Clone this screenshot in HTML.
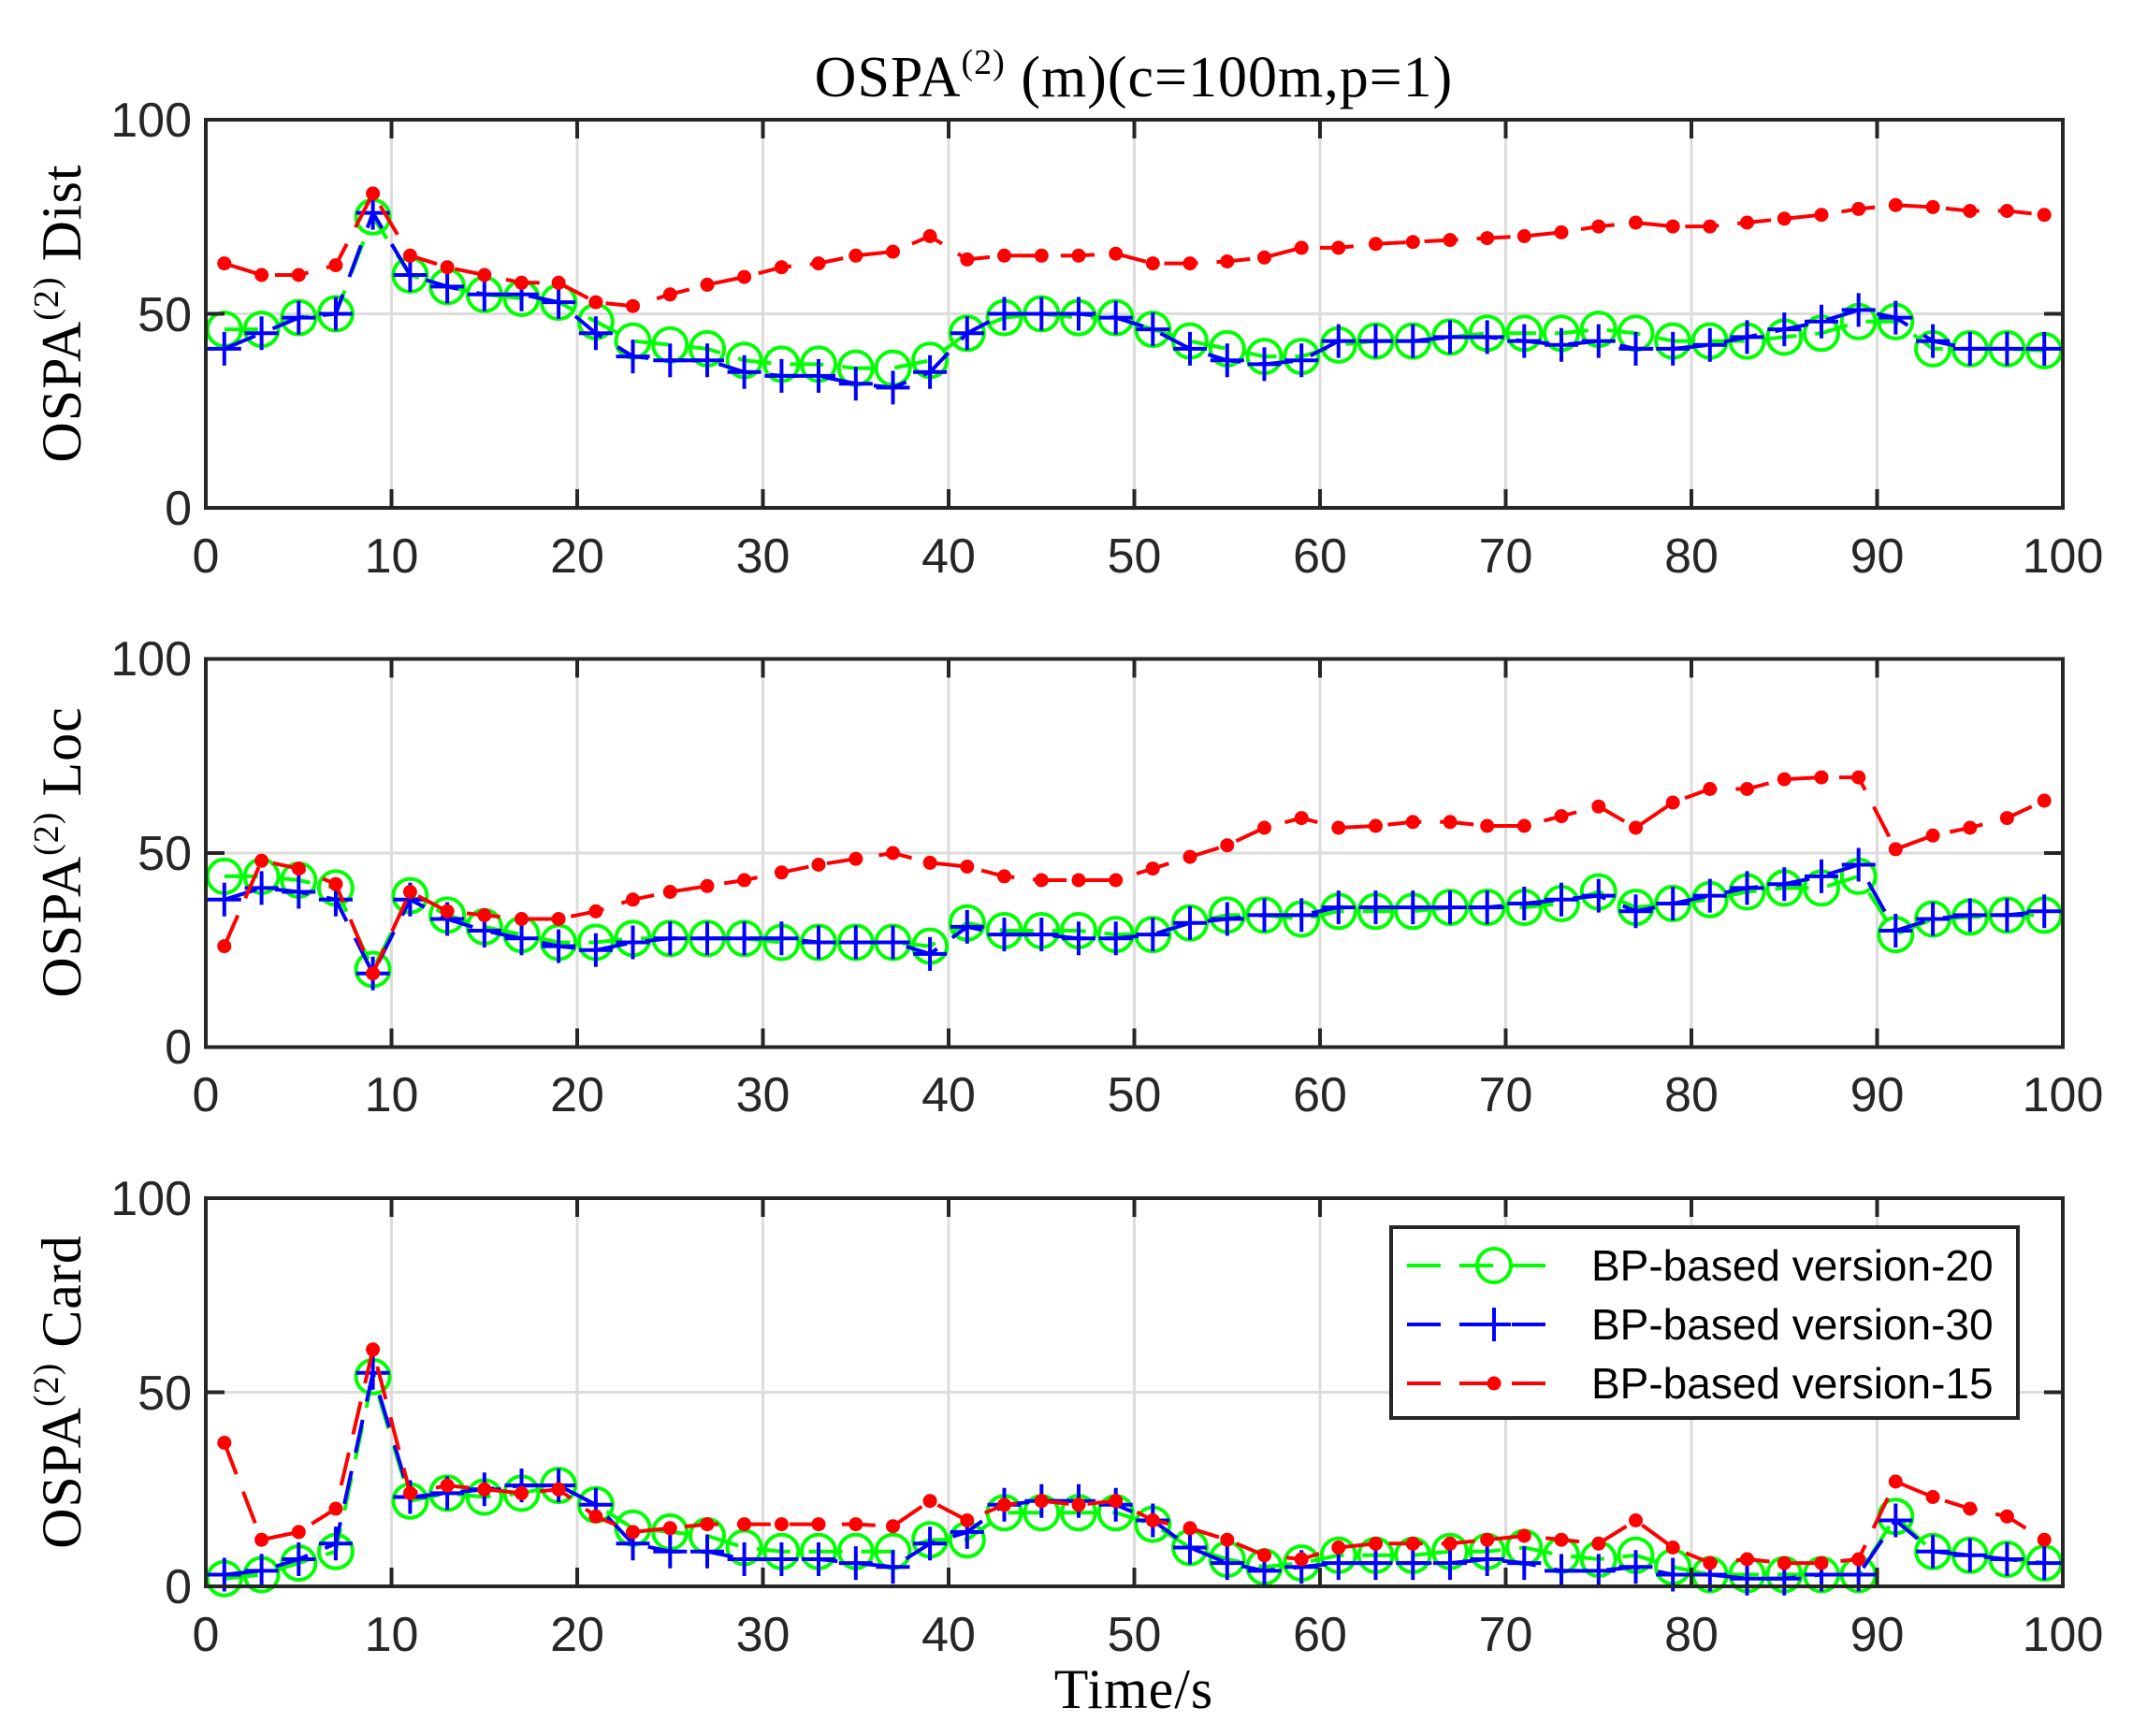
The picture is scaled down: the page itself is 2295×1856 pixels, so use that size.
<!DOCTYPE html>
<html><head><meta charset="utf-8"><style>
html,body{margin:0;padding:0;background:#fff}
svg{display:block}
.tk{font-family:"Liberation Sans",Arial,sans-serif;font-size:52px;fill:#262626}
.sf{font-family:"Liberation Serif","Times New Roman",serif;fill:#000}
.lg{font-family:"Liberation Sans",Arial,sans-serif;font-size:46px;fill:#000}
</style></head><body>
<svg id="s" width="2295" height="1856" viewBox="0 0 2295 1856" xmlns="http://www.w3.org/2000/svg">
<defs>
<marker id="mc" markerUnits="userSpaceOnUse" markerWidth="60" markerHeight="60" refX="30" refY="30" overflow="visible"><circle cx="30" cy="30" r="18" fill="none" stroke="#00ff00" stroke-width="4"/></marker>
<marker id="mp" markerUnits="userSpaceOnUse" markerWidth="60" markerHeight="60" refX="30" refY="30" overflow="visible"><path d="M12 30H48M30 12V48" stroke="#0000ff" stroke-width="4" fill="none"/></marker>
<marker id="md" markerUnits="userSpaceOnUse" markerWidth="60" markerHeight="60" refX="30" refY="30" overflow="visible"><circle cx="30" cy="30" r="7.5" fill="#ff0000"/></marker>
</defs>
<rect width="2295" height="1856" fill="#fff"/>
<g id="axes"></g>
<g id="series"></g>
<g id="frames"></g>
<text class="sf" x="1212" y="103" font-size="62" text-anchor="middle" letter-spacing="1">OSPA<tspan font-size="38" dy="-24">(2)</tspan><tspan dy="24"> (m)(c=100m,p=1)</tspan></text>
<text class="sf" font-size="60" text-anchor="middle" letter-spacing="1" transform="translate(86,335) rotate(-90)">OSPA<tspan font-size="38" dy="-24">(2)</tspan><tspan dy="24"> Dist</tspan></text>
<text class="sf" font-size="60" text-anchor="middle" letter-spacing="1" transform="translate(86,911) rotate(-90)">OSPA<tspan font-size="38" dy="-24">(2)</tspan><tspan dy="24"> Loc</tspan></text>
<text class="sf" font-size="60" text-anchor="middle" letter-spacing="1" transform="translate(86,1488) rotate(-90)">OSPA<tspan font-size="38" dy="-24">(2)</tspan><tspan dy="24"> Card</tspan></text>
<text class="sf" x="1212" y="1826" font-size="60" text-anchor="middle" letter-spacing="1">Time/s</text>
<g class="tk" text-anchor="end">
<text x="205" y="146">100</text><text x="205" y="354">50</text><text x="205" y="561">0</text>
<text x="205" y="722">100</text><text x="205" y="930">50</text><text x="205" y="1137">0</text>
<text x="205" y="1299">100</text><text x="205" y="1507">50</text><text x="205" y="1714">0</text>
</g>
<g class="tk" text-anchor="middle">
<text x="220" y="612">0</text><text x="418.5" y="612">10</text><text x="617" y="612">20</text><text x="815.5" y="612">30</text><text x="1014" y="612">40</text><text x="1212.5" y="612">50</text><text x="1411" y="612">60</text><text x="1609.5" y="612">70</text><text x="1808" y="612">80</text><text x="2006.5" y="612">90</text><text x="2205" y="612">100</text>
<text x="220" y="1188">0</text><text x="418.5" y="1188">10</text><text x="617" y="1188">20</text><text x="815.5" y="1188">30</text><text x="1014" y="1188">40</text><text x="1212.5" y="1188">50</text><text x="1411" y="1188">60</text><text x="1609.5" y="1188">70</text><text x="1808" y="1188">80</text><text x="2006.5" y="1188">90</text><text x="2205" y="1188">100</text>
<text x="220" y="1765">0</text><text x="418.5" y="1765">10</text><text x="617" y="1765">20</text><text x="815.5" y="1765">30</text><text x="1014" y="1765">40</text><text x="1212.5" y="1765">50</text><text x="1411" y="1765">60</text><text x="1609.5" y="1765">70</text><text x="1808" y="1765">80</text><text x="2006.5" y="1765">90</text><text x="2205" y="1765">100</text>
</g>
<g id="leg">
<rect x="1487" y="1312" width="670" height="204" fill="#fff" stroke="#262626" stroke-width="4"/>
<line x1="1504" y1="1353" x2="1672" y2="1353" stroke="#00ff00" stroke-width="4" stroke-dasharray="36 20"/>
<circle cx="1597" cy="1353" r="18" fill="none" stroke="#00ff00" stroke-width="4"/>
<line x1="1504" y1="1416" x2="1672" y2="1416" stroke="#0000ff" stroke-width="4" stroke-dasharray="36 20"/>
<path d="M1579 1416H1615M1597 1398V1434" stroke="#0000ff" stroke-width="4"/>
<line x1="1504" y1="1479" x2="1672" y2="1479" stroke="#ff0000" stroke-width="4" stroke-dasharray="36 20"/>
<circle cx="1597" cy="1479" r="7.5" fill="#ff0000"/>
<text class="lg" x="1701" y="1369">BP-based version-20</text>
<text class="lg" x="1701" y="1432">BP-based version-30</text>
<text class="lg" x="1701" y="1495">BP-based version-15</text>
</g>
</svg>
<script>
(function(){
var NS="http://www.w3.org/2000/svg";
var X0=220,X1=2205,H=415,bottoms=[543,1119.5,1696];
function el(n,a,p){var e=document.createElementNS(NS,n);for(var k in a)e.setAttribute(k,a[k]);p.appendChild(e);return e;}
var ax=document.getElementById('axes'),fr=document.getElementById('frames'),se=document.getElementById('series');
var legend=document.getElementById('leg');
bottoms.forEach(function(b){
  var t=b-H;
  for(var i=1;i<10;i++){var x=X0+(X1-X0)*i/10;el('line',{x1:x,y1:t,x2:x,y2:b,stroke:'#dcdcdc','stroke-width':3},ax);}
  el('line',{x1:X0,y1:b-H/2,x2:X1,y2:b-H/2,stroke:'#dcdcdc','stroke-width':3},ax);
  for(var i=1;i<10;i++){var x=X0+(X1-X0)*i/10;
    el('line',{x1:x,y1:b,x2:x,y2:b-20,stroke:'#262626','stroke-width':4},fr);
    el('line',{x1:x,y1:t,x2:x,y2:t+20,stroke:'#262626','stroke-width':4},fr);}
  el('line',{x1:X0,y1:b-H/2,x2:X0+20,y2:b-H/2,stroke:'#262626','stroke-width':4},fr);
  el('line',{x1:X1,y1:b-H/2,x2:X1-20,y2:b-H/2,stroke:'#262626','stroke-width':4},fr);
  el('rect',{x:X0,y:t,width:X1-X0,height:H,fill:'none',stroke:'#262626','stroke-width':4},fr);
});
var D=[
 {g:[46,46,49,50,75,60,57,55,54,53,48,43,42,41,38,37,37,36,36,38,45,49,50,49,49,46,43,41,39,39,42,43,43,44,45,45,45,46,45,43,43,43,44,45,48,48,41,41,41,40.5],
  b:[41,45,49,50,76,60,57,55,55,53,45,39,38,38,35,34,34,32,31,35,45,50,50,50,49,46,41,38,37,38,43,43,43,44,44,43,42,43,41,41,42,44,46,48,51,49,43,41,41,41],
  r:[63,60,60,62.5,81,65,62,60,58,58,53,52,55,57.5,59.5,62,63,65,66,70,64,65,65,65,65.5,63,63,63.5,64.5,67,67,68,68.5,69,69.5,70,71,72.5,73.5,72.5,72.5,73.5,74.5,75.5,77,78,77.5,76.5,76.5,75.5]},
 {g:[44,44,43,41,20,39,34,31,29,27,27,28,28,28,28,27,27,27,27,26,32,30,30,30,29,29,32,34,34,33,35,35,35,36,36,36,37,40,36,37,38,40,41,41,44,29,33,33.5,34,34],
  b:[38,41,40,38,19,38,33,30,28,26,25,27,28,28,28,28,27,27,27,24,31,29,29,28,28,29,32,33,34,34,36,36,36,36,36,37,38,39,35,37,39,41,42,44,47,30,33,34,34,35],
  r:[26,48,46,42,19,40,35,34,33,33,35,38,40,41.5,43,45,47,48.5,50,47.5,46.5,44,43,43,43,46,49,52,56.5,59,56.5,57,58,58,57,57,59.5,62,56.5,63,66.5,66.5,69,69.5,69.5,51,54.5,56.5,59,63.5]},
 {g:[2,3,6,9,54,22,24,23,24,26,21,15,14,13,10,9,9,9,9,12,12,19,19,19,19,16,10,7,5,6,8,8,8,9,9,10,8,7,8,5,3,3,3,3,3,18,9,8,7,6],
  b:[3,4,7,11,55,23,24,25,26,26,21,11,9,9,7,7,7,6,5,11,14,21,22,22,21,17,10,6,4,5,6,6,6,6,7,6,4,4,5,3,3,2,2,3,3,17,9,8,7,6],
  r:[37,12,14,20,61,24,26,25,24,25,18,14,15,16,16,16,16,16,15.5,22,17,21,22,21,22,17,15,12,8,7,10,11,11,11,12,13,12,11,17,10,6,7,6,6,7,27,23,20,18,12]}
];
var st={g:['#00ff00','mc'],b:['#0000ff','mp'],r:['#ff0000','md']};
D.forEach(function(p,pi){
  var b=bottoms[pi];
  ['g','b','r'].forEach(function(k){
    var pts=p[k].map(function(v,i){var t=1+2*i;return (X0+t*(X1-X0)/100).toFixed(1)+','+(b-v*H/100).toFixed(1);}).join(' ');
    el('polyline',{points:pts,fill:'none',stroke:st[k][0],'stroke-width':4,'stroke-dasharray':'36 20',
      'marker-start':'url(#'+st[k][1]+')','marker-mid':'url(#'+st[k][1]+')','marker-end':'url(#'+st[k][1]+')'},se);
  });
});
document.getElementById('s').appendChild(legend);
})();
</script>
</body></html>
